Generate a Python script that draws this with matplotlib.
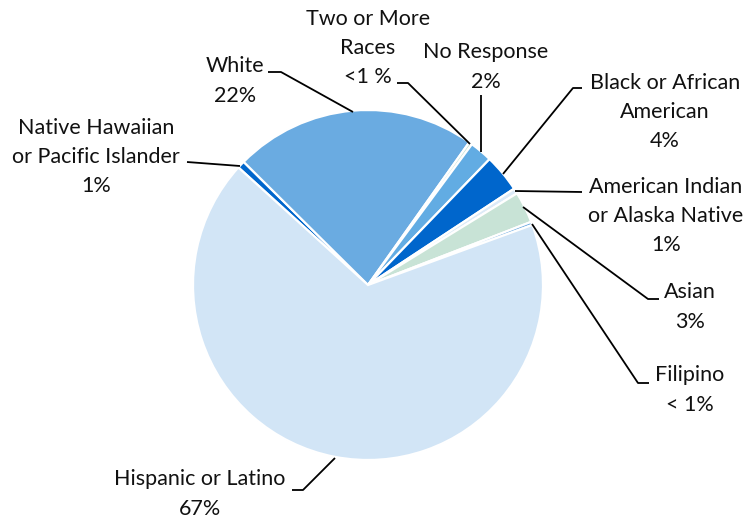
import matplotlib.pyplot as plt

# slices in drawing order (clockwise from the upper left), percent of students
categories = ['Native Hawaiian or Pacific Islander', 'White', 'Two or More Races',
              'No Response', 'Black or African American',
              'American Indian or Alaska Native', 'Asian', 'Filipino',
              'Hispanic or Latino']
shares = [0.7, 22.4, 0.3, 2.1, 3.5, 0.5, 2.9, 0.3, 67.3]
label_texts = ['Native Hawaiian\nor Pacific Islander\n1%', 'White\n22%',
               'Two or More\nRaces\n<1 %', 'No Response\n2%',
               'Black or African\nAmerican\n4%',
               'American Indian\nor Alaska Native\n1%', 'Asian\n3%',
               'Filipino\n< 1%', 'Hispanic or Latino\n67%']
colors = ['#0066CC', '#6AABE1', '#C8E3D6', '#62ACE3', '#0066CC',
          '#DCEAF7', '#C8E3D6', '#6AA8E0', '#D2E5F6']

W, H = 748, 518

# label centre (x, y) in pixels from top-left, and leader polyline
label_pos = [(96, 157), (235, 81), (368, 48), (486, 67), (665, 112),
             (666, 216), (690, 307), (690, 390), (200, 494)]
leaders = [
    [(187, 162), (240, 166)],
    [(268, 72), (281, 72), (353, 112)],
    [(397, 83), (408, 83), (470, 144)],
    [(481, 95), (481, 152)],
    [(582, 88), (573, 88), (503, 174)],
    [(582, 192), (515, 191)],
    [(659, 299), (648, 299), (523, 207)],
    [(649, 383), (638, 383), (532, 224)],
    [(292, 490), (303, 490), (335, 458)],
]

fig = plt.figure(figsize=(W / 100, H / 100), dpi=100)
ax = fig.add_axes([0, 0, 1, 1])
ax.set_xlim(0, W)
ax.set_ylim(0, H)
ax.set_aspect('equal')
ax.axis('off')

ax.pie(shares, colors=colors, startangle=137.8, counterclock=False,
       center=(368, H - 285), radius=175,
       wedgeprops=dict(edgecolor='white', linewidth=1.6))
ax.set_xlim(0, W)
ax.set_ylim(0, H)

for txt, (x, y) in zip(label_texts, label_pos):
    ax.text(x, H - y, txt, ha='center', va='center', fontsize=15.5,
            family='Lato', color='#111111', linespacing=1.58)

for pts in leaders:
    xs = [p[0] for p in pts]
    ys = [H - p[1] for p in pts]
    ax.plot(xs, ys, color='black', lw=1.3, solid_capstyle='butt')

fig.savefig('out.png', dpi=100, facecolor='white')
